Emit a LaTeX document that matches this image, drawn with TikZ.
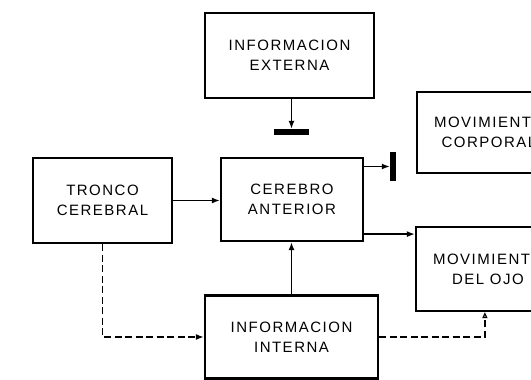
\documentclass[tikz,border=0pt]{standalone}
\usepackage{fontspec}
\setmainfont{Liberation Sans}[LetterSpace=10]
\usetikzlibrary{arrows.meta,calc}

\begin{document}
\begin{tikzpicture}[x=1pt,y=-1pt,
  blockbox/.style={draw,line width=2.2pt,rectangle,inner sep=0pt,
    align=center,font=\fontsize{15}{20}\selectfont},
  stopbar/.style={fill=black,draw=none,rectangle,inner sep=0pt},
  link/.style={line width=1.5pt,-{Latex[length=8pt,width=6pt]}},
  dashlink/.style={line width=1.5pt,dash pattern=on 7pt off 3.5pt,
    -{Latex[length=8pt,width=6pt]}},
  openlink/.style={line width=1.5pt,dash pattern=on 7pt off 3.5pt,
    -{Triangle[open,length=6pt,width=5pt,line width=1.2pt]}}]

\useasboundingbox (0,0) rectangle (531,380);
\clip (0,0) rectangle (531,380);

% blocks
\node[blockbox,minimum width=169pt,minimum height=85pt] (ext) at (289.5,55.5)
  {\fontsize{15}{25}\selectfont INFORMACION\\EXTERNA};
\node[blockbox,minimum width=142pt,minimum height=83pt] (cer) at (292,199.5)
  {CEREBRO\\ANTERIOR};
\node[blockbox,minimum width=139pt,minimum height=85pt] (tro) at (102.5,200.5)
  {TRONCO\\CEREBRAL};
\node[blockbox,minimum width=173pt,minimum height=83pt] (int) at (291.5,337)
  {INFORMACION\\INTERNA};
\node[blockbox,minimum width=144pt,minimum height=84pt] (ojo) at (488,269)
  {MOVIMIENTO\\DEL OJO};
\node[blockbox,minimum width=144pt,minimum height=81pt] (cor) at (489,132.5)
  {MOVIMIENTO\\CORPORAL};

% inhibition bars
\node[stopbar,minimum width=35pt,minimum height=6pt] (barT) at (291.5,132) {};
\node[stopbar,minimum width=6pt,minimum height=29pt] (barR) at (393,166.5) {};

% connectors
\draw[link] (barT.north |- ext.south) -- (barT.north);
\draw[link] (cer.east |- barR) -- (barR.west);
\coordinate (cerOut) at ($(cer.south east)+(0,-8)$);
\draw[link] (cerOut) -- (cerOut -| ojo.west);
\draw[link] (tro.east) -- (tro.east -| cer.west);
\draw[link] (int.north) -- (int.north |- cer.south);
\draw[dashlink] (tro.south) |- (int.west);
\coordinate (ojoFoot) at ($(ojo.south west)+(70,0)$);
\draw[openlink] (int.east) -| (ojoFoot);
\end{tikzpicture}
\end{document}
